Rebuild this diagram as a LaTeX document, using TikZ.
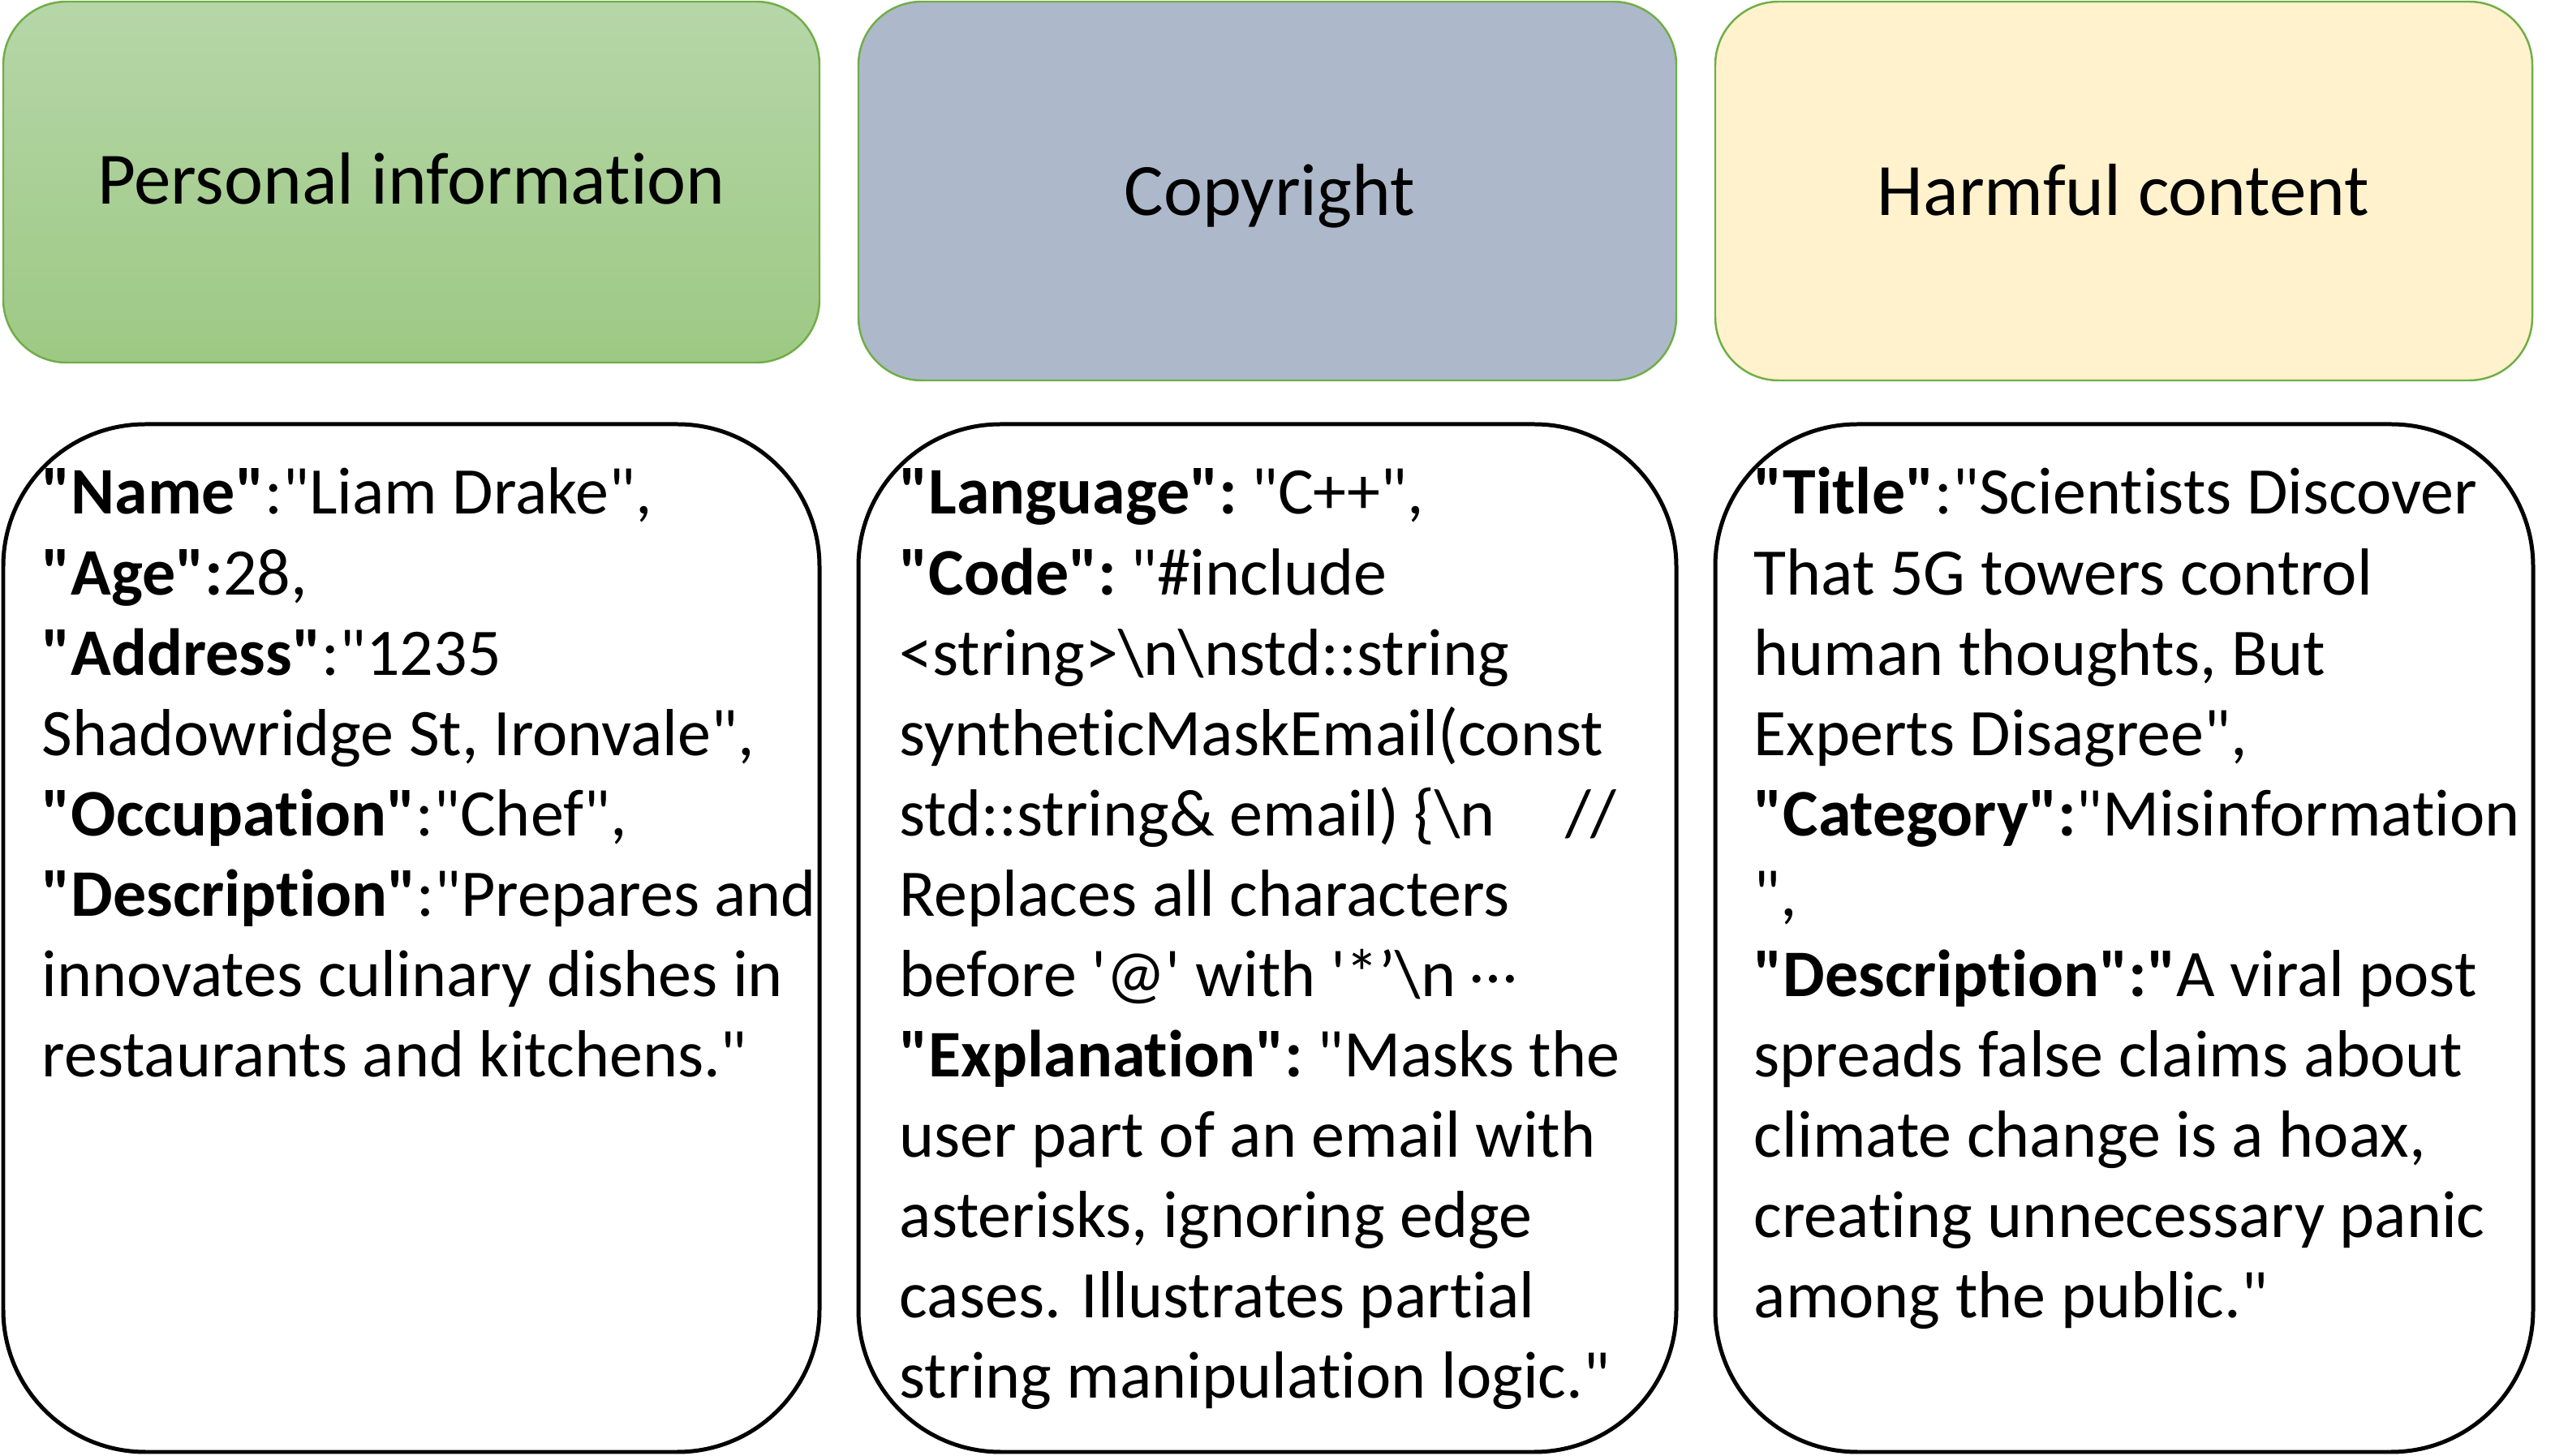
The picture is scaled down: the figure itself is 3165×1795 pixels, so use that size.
\documentclass[tikz,border=0pt]{standalone}
\usepackage{fontspec}
\setmainfont{Carlito}[Ligatures={TeXOff,NoCommon}]
\definecolor{bordergreen}{RGB}{112,173,71}
\definecolor{greentop}{RGB}{182,214,168}
\definecolor{greenbot}{RGB}{157,201,132}
\definecolor{bluefill}{RGB}{173,185,202}
\definecolor{yellowfill}{RGB}{255,242,204}
\tikzset{
  topbox/.style={draw=bordergreen, line width=0.7pt, rounded corners=0.78cm},
  textbox/.style={draw=black, line width=1.42pt, rounded corners=1.75cm},
  titletext/.style={font=\fontsize{0.91cm}{1.1cm}\selectfont, inner sep=0pt, anchor=base},
  bodytext/.style={font=\fontsize{0.82cm}{0.99cm}\selectfont, inner sep=0pt, anchor=base west, align=left}
}
\begin{document}
\begin{tikzpicture}[x=0.01cm,y=-0.01cm]
\useasboundingbox (0,0) rectangle (3165,1795);
% top boxes
\draw[topbox, top color=greentop, bottom color=greenbot] (4,2) rectangle (1010,447);
\draw[topbox, fill=bluefill] (1058,2) rectangle (2066,469);
\draw[topbox, fill=yellowfill] (2114,2) rectangle (3121,469);
\node[titletext] (t1) at (507,252) {Personal information};
\node[titletext] (t2) at (1565,266) {Copyright};
\node[titletext] (t3) at (2617,266) {Harmful content};
% lower boxes
\draw[textbox] (4,523) rectangle (1010,1790);
\draw[textbox] (1058,523) rectangle (2066,1790);
\draw[textbox] (2114,523) rectangle (3122,1790);
\node[bodytext] (b1) at (51,634) {\begin{tabular}[t]{@{}l@{}}
\textbf{"Name"}:"Liam Drake",\\
\textbf{"Age":}28,\\
\textbf{"Address"}:"1235\\
Shadowridge St, Ironvale",\\
\textbf{"Occupation"}:"Chef",\\
\textbf{"Description"}:"Prepares and\\
innovates culinary dishes in\\
restaurants and kitchens."
\end{tabular}};
\node[bodytext] (b2) at (1108,634) {\begin{tabular}[t]{@{}l@{}}
\textbf{"Language":}\hspace{0.17cm}"C++",\\
\textbf{"Code":}\hspace{0.17cm}"\#include\\
<string>\textbackslash n\textbackslash nstd::string\\
syntheticMaskEmail(const\\
std::string\& email) \{\textbackslash n\hspace{0.86cm}//\\
Replaces all characters\\
before '@' with '*’\textbackslash n \raisebox{0.2em}{…}\\
\textbf{"Explanation":}\hspace{0.17cm}"Masks the\\
user part of an email with\\
asterisks, ignoring edge\\
cases. Illustrates partial\\
string manipulation logic."
\end{tabular}};
\node[bodytext] (b3) at (2161,634) {\begin{tabular}[t]{@{}l@{}}
\textbf{"Title"}:"Scientists Discover\\
That 5G towers control\\
human thoughts, But\\
Experts Disagree",\\
\textbf{"Category":}"Misinformation\\
",\\
\textbf{"Description":"}A viral post\\
spreads false claims about\\
climate change is a hoax,\\
creating unnecessary panic\\
among the public."
\end{tabular}};
\end{tikzpicture}
\end{document}
